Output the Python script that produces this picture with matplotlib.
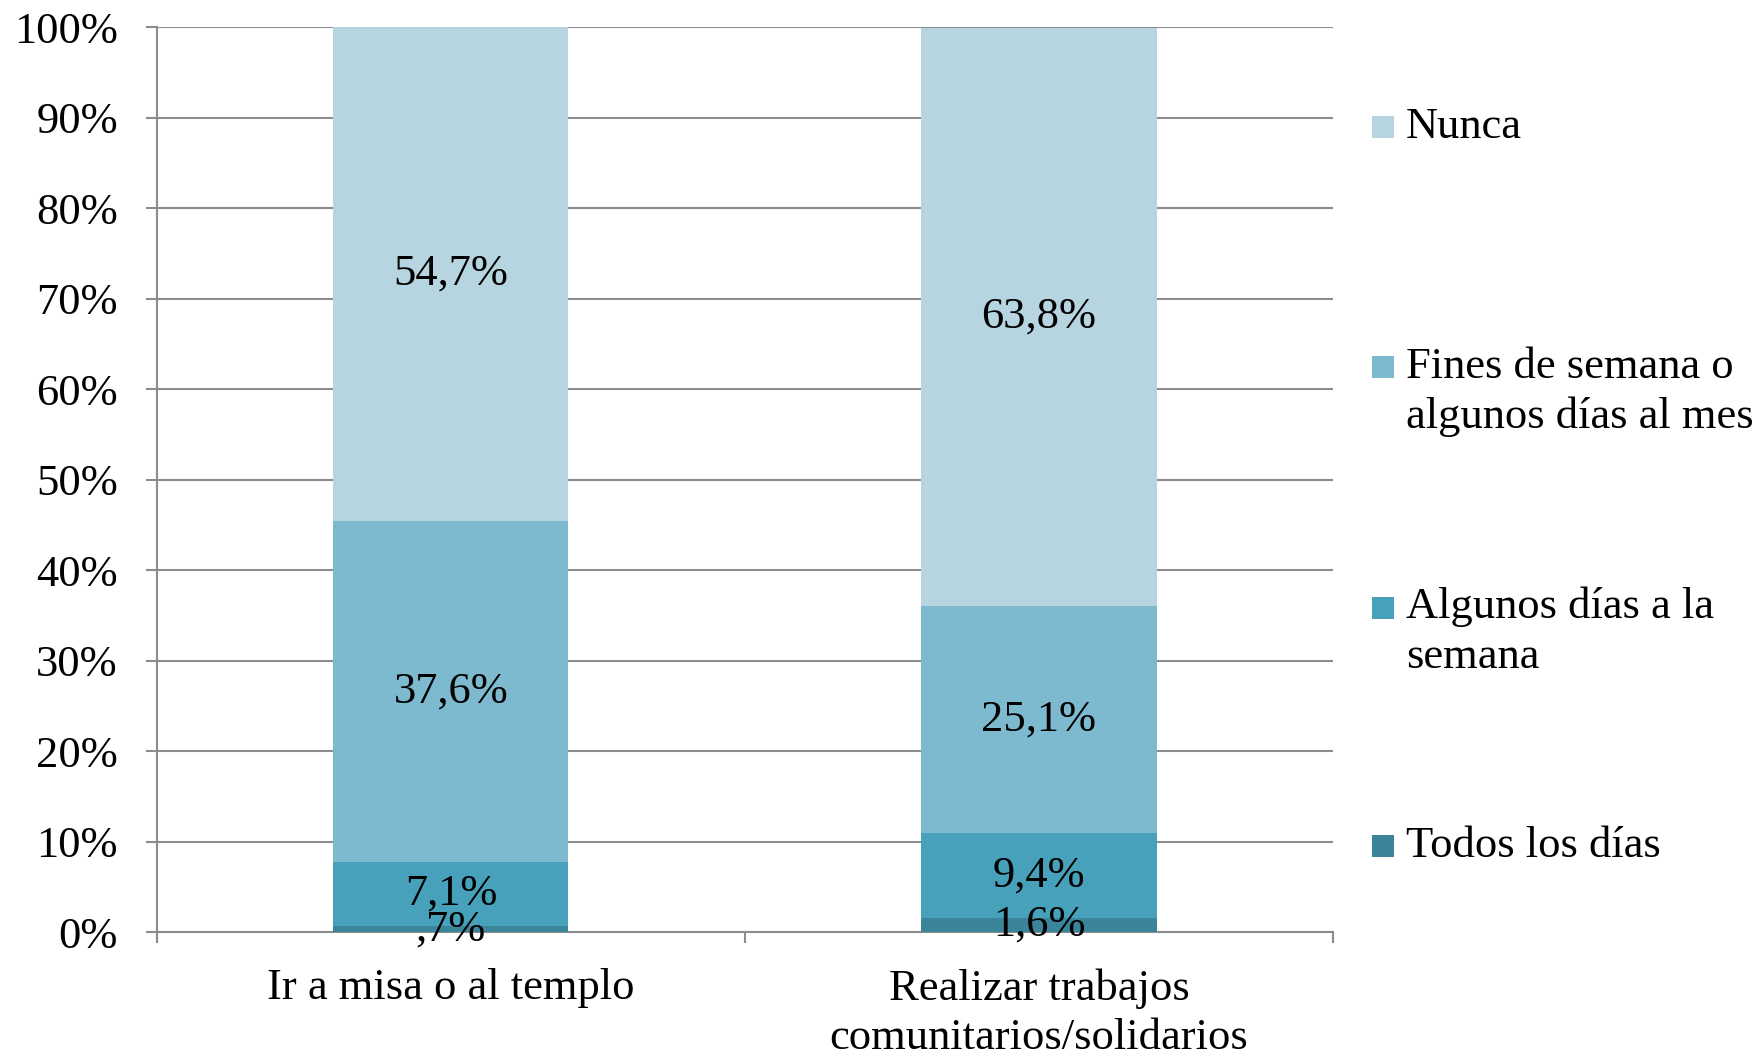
import matplotlib
matplotlib.use("Agg")
import matplotlib.pyplot as plt
import numpy as np
from matplotlib.patches import Rectangle

plt.rcParams['font.family'] = ['Liberation Serif', 'DejaVu Serif']

categories = ["Ir a misa o al templo", "Realizar trabajos\ncomunitarios/solidarios"]
series_names = ["Todos los días", "Algunos días a la\nsemana",
                "Fines de semana o\nalgunos días al mes", "Nunca"]
todos = [0.7, 1.6]
algunos = [7.1, 9.4]
fines = [37.6, 25.1]
nunca = [54.7, 63.8]
labels_todos = [",7%", "1,6%"]
labels_algunos = ["7,1%", "9,4%"]
labels_fines = ["37,6%", "25,1%"]
labels_nunca = ["54,7%", "63,8%"]
yticks = [0, 10, 20, 30, 40, 50, 60, 70, 80, 90, 100]
ytick_labels = [f"{v}%" for v in yticks]

colors = ["#3A8599", "#47A1BA", "#7DB9CF", "#B7D5E0"]
values = [todos, algunos, fines, nunca]
value_labels = [labels_todos, labels_algunos, labels_fines, labels_nunca]

fig = plt.figure(figsize=(17.61, 10.57), dpi=100)
ax = fig.add_axes([0.089, 0.118, 0.668, 0.856])

x = np.arange(len(categories))
bottom = np.zeros(len(categories))
fs = 32
for vals, col, labs in zip(values, colors, value_labels):
    vals = np.array(vals)
    ax.bar(x, vals, 0.4, bottom=bottom, color=col, zorder=3)
    for xi, b, v, lab in zip(x, bottom, vals, labs):
        ax.text(xi, b + v / 2, lab, ha='center', va='center', fontsize=fs,
                color='black', zorder=5)
    bottom = bottom + vals

ax.set_xlim(-0.5, 1.5)
ax.set_ylim(0, 100)
ax.set_yticks(yticks)
ax.set_yticklabels(ytick_labels, fontsize=fs)
ax.set_xticks(x)
ax.set_xticklabels(categories, fontsize=fs, linespacing=1.3)
ax.set_xticks([-0.5, 0.5, 1.5], minor=True)

grid_col = "#8C8C8C"
ax.yaxis.grid(True, color=grid_col, linewidth=1.5, zorder=0)
ax.xaxis.grid(False)
for s in ['top', 'right']:
    ax.spines[s].set_visible(False)
for s in ['left', 'bottom']:
    ax.spines[s].set_color(grid_col)
    ax.spines[s].set_linewidth(1.5)
ax.tick_params(axis='y', length=8, width=1.5, color=grid_col, pad=20)
ax.tick_params(axis='x', which='major', length=0, pad=26)
ax.tick_params(axis='x', which='minor', length=8, width=1.5, color=grid_col)

# Legend (Excel-style: square aligned to first text line)
leg_names = series_names[::-1]
leg_colors = colors[::-1]
square_y = [0.8798, 0.6528, 0.4248, 0.1996]
text_y = [0.8798, 0.6291, 0.4021, 0.1996]
sq_w, sq_h = 0.01249, 0.0208
for name, col, sy, ty in zip(leg_names, leg_colors, square_y, text_y):
    fig.add_artist(Rectangle((0.7791, sy - sq_h / 2), sq_w, sq_h,
                             transform=fig.transFigure, facecolor=col,
                             edgecolor='none'))
    fig.text(0.7984, ty, name, ha='left', va='center', fontsize=fs,
             linespacing=1.32)

fig.savefig("out.png", dpi=100)
